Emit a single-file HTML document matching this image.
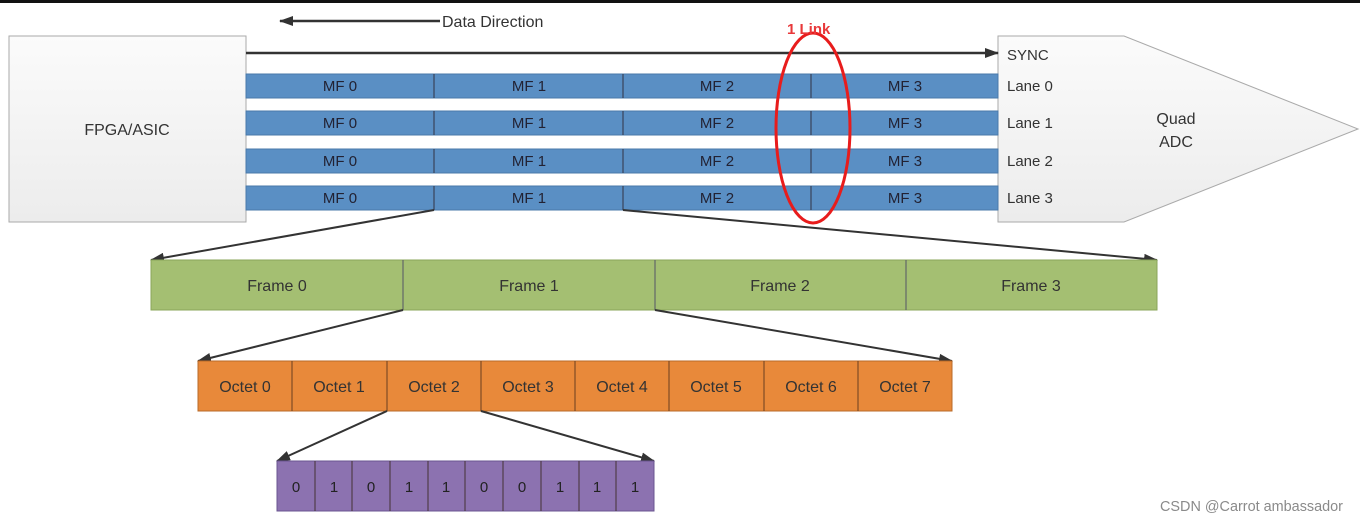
<!DOCTYPE html>
<html><head><meta charset="utf-8"><style>
html,body{margin:0;padding:0;background:#fff;}
svg{display:block;}
text{font-family:"Liberation Sans",sans-serif;}
</style></head><body>
<svg width="1360" height="522" viewBox="0 0 1360 522" xmlns="http://www.w3.org/2000/svg">
<defs>
<marker id="ar" markerWidth="14" markerHeight="10" refX="13" refY="5" orient="auto" markerUnits="userSpaceOnUse">
<path d="M0,0 L14,5 L0,10 z" fill="#333"/></marker>
<linearGradient id="gb" x1="0" y1="0" x2="0" y2="1"><stop offset="0" stop-color="#fbfbfb"/><stop offset="1" stop-color="#ececec"/></linearGradient>
</defs>
<rect x="0" y="0" width="1360" height="3" fill="#111"/>
<!-- Data direction -->
<line x1="440" y1="21" x2="280" y2="21" stroke="#333" stroke-width="2.5" marker-end="url(#ar)"/>
<text x="442" y="27" font-size="16" fill="#333">Data Direction</text>
<!-- FPGA -->
<rect x="9" y="36" width="237" height="186" fill="url(#gb)" stroke="#aaa"/>
<text x="127" y="135" font-size="16" fill="#333" text-anchor="middle">FPGA/ASIC</text>
<!-- ADC -->
<path d="M998,36 L1124,36 L1358,129 L1124,222 L998,222 Z" fill="url(#gb)" stroke="#aaa"/>
<text x="1176" y="124" font-size="16" fill="#333" text-anchor="middle">Quad</text>
<text x="1176" y="147" font-size="16" fill="#333" text-anchor="middle">ADC</text>
<text x="1007" y="60" font-size="15" fill="#333">SYNC</text>
<text x="1007" y="91" font-size="15" fill="#333">Lane 0</text>
<text x="1007" y="128" font-size="15" fill="#333">Lane 1</text>
<text x="1007" y="166" font-size="15" fill="#333">Lane 2</text>
<text x="1007" y="203" font-size="15" fill="#333">Lane 3</text>
<!-- SYNC line -->
<line x1="246" y1="53" x2="998" y2="53" stroke="#333" stroke-width="2.5" marker-end="url(#ar)"/>
<!-- lanes -->
<g font-size="15" fill="#223" text-anchor="middle">
<g id="lane">
<rect x="246" y="74" width="752" height="24" fill="#5a8fc4" stroke="#4a7aaa"/>
<line x1="434" y1="74" x2="434" y2="98" stroke="#334"/>
<line x1="623" y1="74" x2="623" y2="98" stroke="#334"/>
<line x1="811" y1="74" x2="811" y2="98" stroke="#334"/>
<text x="340" y="91">MF 0</text><text x="529" y="91">MF 1</text><text x="717" y="91">MF 2</text><text x="905" y="91">MF 3</text>
</g>
<use href="#lane" y="37"/>
<use href="#lane" y="75"/>
<use href="#lane" y="112"/>
</g>
<!-- link ellipse -->
<ellipse cx="813" cy="128" rx="37" ry="95" fill="none" stroke="#e81c1c" stroke-width="3"/>
<text x="787" y="34" font-size="15" font-weight="bold" fill="#e8383a">1 Link</text>
<!-- arrows to frames -->
<line x1="434" y1="210" x2="151" y2="260" stroke="#333" stroke-width="2" marker-end="url(#ar)"/>
<line x1="623" y1="210" x2="1157" y2="260" stroke="#333" stroke-width="2" marker-end="url(#ar)"/>
<!-- frames -->
<rect x="151" y="260" width="1006" height="50" fill="#a4bf72" stroke="#8aa65a"/>
<g stroke="#556">
<line x1="403" y1="260" x2="403" y2="310"/><line x1="655" y1="260" x2="655" y2="310"/><line x1="906" y1="260" x2="906" y2="310"/>
</g>
<g font-size="16" fill="#333" text-anchor="middle">
<text x="277" y="291">Frame 0</text><text x="529" y="291">Frame 1</text><text x="780" y="291">Frame 2</text><text x="1031" y="291">Frame 3</text>
</g>
<line x1="403" y1="310" x2="198" y2="361" stroke="#333" stroke-width="2" marker-end="url(#ar)"/>
<line x1="655" y1="310" x2="952" y2="361" stroke="#333" stroke-width="2" marker-end="url(#ar)"/>
<!-- octets -->
<rect x="198" y="361" width="754" height="50" fill="#e8893a" stroke="#b86a28"/>
<g stroke="#6a4020">
<line x1="292" y1="361" x2="292" y2="411"/><line x1="387" y1="361" x2="387" y2="411"/><line x1="481" y1="361" x2="481" y2="411"/><line x1="575" y1="361" x2="575" y2="411"/><line x1="669" y1="361" x2="669" y2="411"/><line x1="764" y1="361" x2="764" y2="411"/><line x1="858" y1="361" x2="858" y2="411"/>
</g>
<g font-size="16" fill="#333" text-anchor="middle">
<text x="245" y="392">Octet 0</text><text x="339" y="392">Octet 1</text><text x="434" y="392">Octet 2</text><text x="528" y="392">Octet 3</text><text x="622" y="392">Octet 4</text><text x="716" y="392">Octet 5</text><text x="811" y="392">Octet 6</text><text x="905" y="392">Octet 7</text>
</g>
<line x1="387" y1="411" x2="277" y2="461" stroke="#333" stroke-width="2" marker-end="url(#ar)"/>
<line x1="481" y1="411" x2="654" y2="461" stroke="#333" stroke-width="2" marker-end="url(#ar)"/>
<!-- bits -->
<rect x="277" y="461" width="377" height="50" fill="#8c72b0" stroke="#6a5490"/>
<g stroke="#433">
<line x1="315" y1="461" x2="315" y2="511"/><line x1="352" y1="461" x2="352" y2="511"/><line x1="390" y1="461" x2="390" y2="511"/><line x1="428" y1="461" x2="428" y2="511"/><line x1="465" y1="461" x2="465" y2="511"/><line x1="503" y1="461" x2="503" y2="511"/><line x1="541" y1="461" x2="541" y2="511"/><line x1="579" y1="461" x2="579" y2="511"/><line x1="616" y1="461" x2="616" y2="511"/>
</g>
<g font-size="15" fill="#222" text-anchor="middle">
<text x="296" y="492">0</text><text x="334" y="492">1</text><text x="371" y="492">0</text><text x="409" y="492">1</text><text x="446" y="492">1</text><text x="484" y="492">0</text><text x="522" y="492">0</text><text x="560" y="492">1</text><text x="597" y="492">1</text><text x="635" y="492">1</text>
</g>
<text x="1160" y="511" font-size="15" textLength="183" lengthAdjust="spacingAndGlyphs" fill="#8a8a8a">CSDN @Carrot ambassador</text>
</svg>
</body></html>
